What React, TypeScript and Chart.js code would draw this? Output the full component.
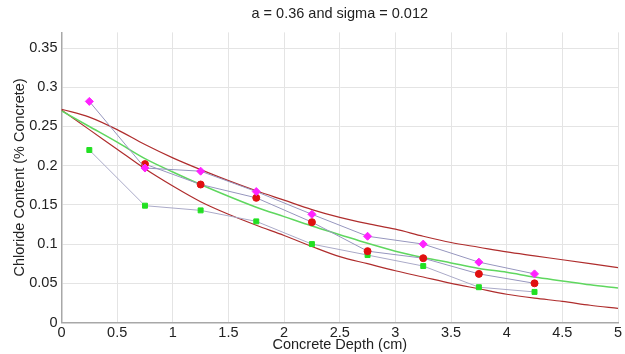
import React, { useEffect, useRef } from 'react';
import { Chart, registerables } from 'chart.js';

Chart.register(...registerables);

const titleText = 'a = 0.36 and sigma = 0.012';
const xTitle = 'Concrete Depth (cm)';
const yTitle = 'Chloride Content (% Concrete)';

const xTicks = [0, 0.5, 1, 1.5, 2, 2.5, 3, 3.5, 4, 4.5, 5];
const yTicks = [0, 0.05, 0.1, 0.15, 0.2, 0.25, 0.3, 0.35];

// measured samples
const sampleDepths = [0.25, 0.75, 1.25, 1.75, 2.25, 2.75, 3.25, 3.75, 4.25];
const magentaValues = [0.282, 0.197, 0.193, 0.167, 0.138, 0.11, 0.1, 0.077, 0.062];
const redDepths = [0.75, 1.25, 1.75, 2.25, 2.75, 3.25, 3.75, 4.25];
const redValues = [0.202, 0.176, 0.159, 0.128, 0.091, 0.082, 0.062, 0.05];
const greenValues = [0.22, 0.149, 0.143, 0.129, 0.1, 0.086, 0.072, 0.045, 0.039];

// model curves
const curveDepths = [0, 0.25, 0.5, 0.75, 1, 1.25, 1.5, 1.75, 2, 2.25, 2.5, 2.75, 3, 3.25, 3.5, 3.75, 4, 4.25, 4.5, 4.75, 5];
const meanCurve = [0.27, 0.25, 0.23, 0.209, 0.192, 0.176, 0.161, 0.147, 0.135, 0.123, 0.112, 0.101, 0.091, 0.083, 0.076, 0.069, 0.064, 0.058, 0.053, 0.048, 0.044];
const upperCurve = [0.272, 0.262, 0.246, 0.227, 0.21, 0.195, 0.181, 0.168, 0.156, 0.144, 0.134, 0.126, 0.119, 0.11, 0.102, 0.096, 0.09, 0.085, 0.08, 0.075, 0.07];
const lowerCurve = [0.271, 0.246, 0.221, 0.196, 0.174, 0.154, 0.138, 0.124, 0.111, 0.097, 0.084, 0.075, 0.066, 0.058, 0.05, 0.043, 0.036, 0.031, 0.027, 0.022, 0.018];

const pts = (xs: number[], ys: number[]) => xs.map((x, i) => ({ x, y: ys[i] }));
const fmt = (v: number) => String(Number(Number(v).toFixed(2)));

const FONT = 'Arial, "Liberation Sans", sans-serif';

export default function App() {
  const ref = useRef<HTMLCanvasElement | null>(null);

  useEffect(() => {
    if (!ref.current) return;
    const connector = 'rgb(150,150,190)';
    const chart = new Chart(ref.current, {
      type: 'line',
      data: {
        datasets: [
          {
            label: 'magenta',
            data: pts(sampleDepths, magentaValues),
            borderColor: connector,
            borderWidth: 1,
            pointBackgroundColor: '#ff22ff',
            pointBorderColor: '#ff22ff',
            pointStyle: 'rectRot',
            pointRadius: 4,
            tension: 0,
          },
          {
            label: 'red',
            data: pts(redDepths, redValues),
            borderColor: connector,
            borderWidth: 1,
            pointBackgroundColor: '#e01010',
            pointBorderColor: '#e01010',
            pointStyle: 'circle',
            pointRadius: 3.5,
            tension: 0,
          },
          {
            label: 'green',
            data: pts(sampleDepths, greenValues),
            borderColor: 'rgb(170,170,200)',
            borderWidth: 1,
            pointBackgroundColor: '#22e022',
            pointBorderColor: '#22e022',
            pointStyle: 'rect',
            pointRadius: 3.5,
            tension: 0,
          },
          {
            label: 'mean',
            data: pts(curveDepths, meanCurve),
            borderColor: 'rgb(95,215,95)',
            borderWidth: 1.5,
            pointRadius: 0,
            cubicInterpolationMode: 'monotone',
          },
          {
            label: 'upper',
            data: pts(curveDepths, upperCurve),
            borderColor: 'rgb(175,45,45)',
            borderWidth: 1.2,
            pointRadius: 0,
            cubicInterpolationMode: 'monotone',
          },
          {
            label: 'lower',
            data: pts(curveDepths, lowerCurve),
            borderColor: 'rgb(175,45,45)',
            borderWidth: 1.2,
            pointRadius: 0,
            cubicInterpolationMode: 'monotone',
          },
        ],
      },
      options: {
        animation: false,
        responsive: false,
        devicePixelRatio: 1,
        layout: { padding: { left: 0, right: 7, top: 0, bottom: 0 } },
        plugins: {
          legend: { display: false },
          tooltip: { enabled: false },
          title: {
            display: true,
            text: titleText,
            fullSize: false,
            color: '#222',
            font: { family: FONT, size: 14.5, weight: 'normal' },
            padding: { top: 5, bottom: 10 },
          },
        },
        scales: {
          x: {
            type: 'linear',
            min: 0,
            max: 5,
            afterBuildTicks: (s: any) => {
              s.ticks = xTicks.map((v) => ({ value: v }));
            },
            afterFit: (s: any) => {
              s.height = 31.5;
            },
            ticks: {
              callback: (v: any) => fmt(v),
              color: '#222',
              font: { family: FONT, size: 14.5 },
              padding: 2,
              maxRotation: 0,
              autoSkip: false,
            },
            grid: { color: '#e4e4e4', drawTicks: false },
            border: { color: '#a8a8a8', width: 1.5 },
            title: {
              display: true,
              text: xTitle,
              color: '#222',
              font: { family: FONT, size: 14.5 },
              padding: { top: 0, bottom: 0 },
            },
          },
          y: {
            type: 'linear',
            min: 0,
            max: 0.37,
            afterBuildTicks: (s: any) => {
              s.ticks = yTicks.map((v) => ({ value: v }));
            },
            afterFit: (s: any) => {
              s.width = 61.5;
            },
            ticks: {
              callback: (v: any) => fmt(v),
              color: '#222',
              font: { family: FONT, size: 14.5 },
              padding: 4,
              autoSkip: false,
            },
            grid: { color: '#e4e4e4', drawTicks: false },
            border: { color: '#a8a8a8', width: 1.5 },
            title: {
              display: true,
              text: yTitle,
              color: '#222',
              font: { family: FONT, size: 14.5 },
              padding: { top: 11, bottom: 0 },
            },
          },
        },
      },
    } as any);
    return () => chart.destroy();
  }, []);

  return (
    <div style={{ position: 'fixed', left: 0, top: 0, width: 625, height: 354, background: '#fff' }}>
      <canvas ref={ref} width={625} height={354} style={{ display: 'block' }} />
    </div>
  );
}
